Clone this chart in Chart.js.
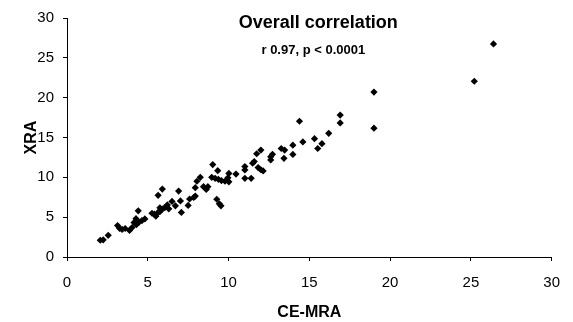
<!DOCTYPE html>
<html>
<head>
<meta charset="utf-8">
<script src="https://cdn.jsdelivr.net/npm/chart.js@4"></script>
<style>
  html, body { margin:0; padding:0; background:#fff; }
  #wrap { width:573px; height:322px; }
</style>
</head>
<body>
<div id="wrap"><canvas id="corrChart" width="573" height="322"></canvas></div>
<script>
// ===== Data =====
const ceMra = [
  2.06, 2.24, 2.55, 3.13, 3.26, 3.41, 3.60, 3.87, 4.03, 4.15, 4.27, 4.41, 4.30, 4.46, 4.64, 4.82,
  5.26, 5.41, 5.50, 5.62, 5.75, 5.64, 5.90, 5.75, 5.90, 6.05, 6.21, 6.30, 6.50, 6.71,
  6.91, 7.02, 7.08, 7.59, 7.50, 7.84, 7.94, 8.04, 7.94,
  8.25, 8.45, 8.62, 8.72, 9.02, 9.33, 8.96, 9.17, 9.37, 9.56, 9.78, 10.02, 9.96, 10.02, 10.46,
  9.27, 9.43, 9.53, 11.01, 11.01, 11.01, 11.40, 11.49, 11.59, 11.74, 12.00, 11.83, 12.00, 12.14,
  12.61, 12.72, 12.61, 13.26, 13.47, 13.43, 13.98, 13.98, 14.39, 14.60, 15.32, 15.52, 15.78, 16.20,
  16.91, 16.91, 19.00, 19.00, 25.21, 26.40
];
const xra = [
  2.10, 2.16, 2.72, 3.95, 3.58, 3.46, 3.58, 3.33, 3.70, 4.32, 4.81, 5.80, 4.07, 4.36, 4.57, 4.78,
  5.49, 5.37, 5.12, 5.56, 5.68, 7.74, 8.52, 6.17, 6.01, 6.21, 6.54, 6.05, 6.98, 6.42,
  8.27, 7.04, 5.59, 7.28, 6.48, 7.47, 8.70, 9.51, 7.65,
  10.00, 8.83, 8.48, 8.83, 11.60, 10.83, 10.00, 9.88, 9.75, 9.59, 9.51, 9.44, 9.94, 10.49, 10.41,
  7.25, 6.67, 6.42, 11.36, 10.93, 9.88, 9.88, 11.77, 11.98, 12.96, 13.42, 11.23, 10.95, 10.80,
  12.59, 12.90, 12.19, 13.62, 13.42, 12.38, 14.04, 12.88, 17.04, 14.44, 14.85, 13.62, 14.23, 15.52,
  17.81, 16.83, 16.17, 20.70, 22.06, 26.75
];
const axisTicks = [0, 5, 10, 15, 20, 25, 30];
const titleText = 'Overall correlation';
const statText = 'r 0.97, p < 0.0001';
const xLabel = 'CE-MRA';
const yLabel = 'XRA';

const points = ceMra.map((x, i) => ({ x: x, y: xra[i] }));

// ===== Title drawn inside the plot area =====
const innerTitle = {
  id: 'innerTitle',
  afterDraw(chart) {
    const ctx = chart.ctx;
    const a = chart.chartArea;
    const cx = (a.left + a.right) / 2;
    ctx.save();
    ctx.fillStyle = '#000';
    ctx.textAlign = 'center';
    ctx.textBaseline = 'middle';
    ctx.font = 'bold 18px "Liberation Sans", Arial, sans-serif';
    ctx.fillText(titleText, cx + 9, a.top + 5);
    ctx.font = 'bold 13px "Liberation Sans", Arial, sans-serif';
    ctx.fillText(statText, cx + 4, a.top + 32);
    ctx.restore();
  }
};

const tickFont = { family: '"Liberation Sans", Arial, sans-serif', size: 15 };
const titleFont = { family: '"Liberation Sans", Arial, sans-serif', size: 16, weight: 'bold' };

new Chart(document.getElementById('corrChart').getContext('2d'), {
  type: 'scatter',
  data: {
    datasets: [{
      data: points,
      pointStyle: 'rectRot',
      pointRadius: 3.6,
      backgroundColor: '#000',
      borderColor: '#000',
      borderWidth: 0
    }]
  },
  options: {
    responsive: false,
    animation: false,
    layout: { padding: { top: 14, right: 17, left: 20, bottom: 0 } },
    plugins: { legend: { display: false }, tooltip: { enabled: false } },
    scales: {
      x: {
        type: 'linear', min: 0, max: 30,
        afterBuildTicks: s => { s.ticks = axisTicks.map(v => ({ value: v })); },
        afterFit: s => { s.height = 65; },
        grid: { drawOnChartArea: false, drawTicks: true, tickLength: 4, color: '#000' },
        border: { display: true, color: '#000', width: 1 },
        ticks: { color: '#000', font: tickFont, padding: 13, maxRotation: 0 },
        title: { display: true, text: xLabel, color: '#000', font: titleFont, padding: { top: 4, bottom: 0 } }
      },
      y: {
        type: 'linear', min: 0, max: 30,
        afterBuildTicks: s => { s.ticks = axisTicks.map(v => ({ value: v })); },
        afterFit: s => { s.width = 47; },
        grid: { drawOnChartArea: false, drawTicks: true, tickLength: 4, color: '#000' },
        border: { display: true, color: '#000', width: 1 },
        ticks: { color: '#000', font: tickFont, padding: 9 },
        title: { display: true, text: yLabel, color: '#000', font: titleFont, padding: { top: 2, bottom: 0 } }
      }
    }
  },
  plugins: [innerTitle]
});
</script>
</body>
</html>
